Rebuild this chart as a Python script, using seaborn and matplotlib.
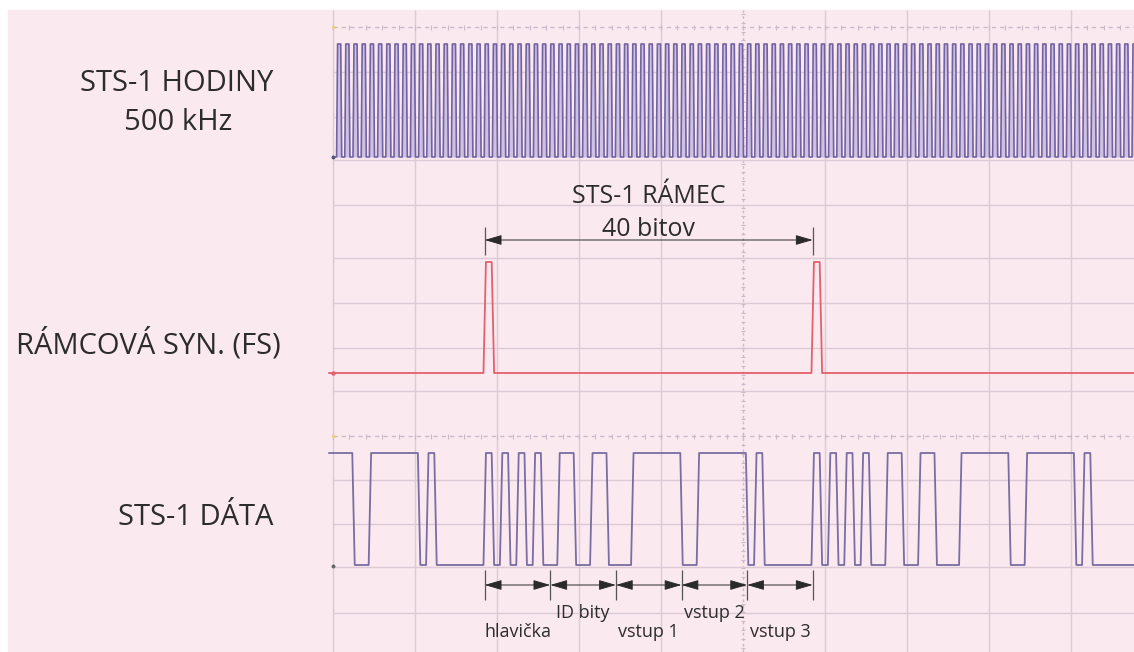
import numpy as np
import pandas as pd
import matplotlib
matplotlib.use("Agg")
import matplotlib.pyplot as plt
from matplotlib.patches import Rectangle
import seaborn as sns

# ------------------------------------------------------------------ data
# time unit = 1 bit (one clock period); bit i occupies [i-0.5, i+0.5]
clock_cycles = 98                     # 500 kHz clock periods visible
clock_pattern = [0, 1]                # low half, high half of each period
fs_high_bits = [19, 59]               # frame-sync pulses (one bit wide)
data_bits = [1, 1, 1, 0, 0, 1, 1, 1, 1, 1, 1, 0, 1, 0, 0, 0, 0, 0, 0,
             1, 0, 1, 0, 1, 0, 1, 0, 0, 1, 1, 0, 0, 1, 1, 0, 0, 0, 1, 1, 1,
             1, 1, 1, 0, 0, 1, 1, 1, 1, 1, 1, 0, 1, 0, 0, 0, 0, 0, 0,
             1, 0, 1, 0, 1, 0, 1, 0, 0, 1, 1, 0, 0, 1, 1, 0, 0, 0, 1, 1, 1,
             1, 1, 1, 0, 0, 1, 1, 1, 1, 1, 1, 0, 1, 0, 0, 0, 0, 0, 0]
frame_start, frame_end = 18.5, 58.5
frame_title = ["STS-1 RÁMEC", "40 bitov"]
segment_bounds = [18.5, 26.5, 34.5, 42.5, 50.5, 58.5]
segment_labels = ["hlavička", "ID bity", "vstup 1", "vstup 2", "vstup 3"]
channel_labels = ["STS-1 HODINY", "500 kHz", "RÁMCOVÁ SYN. (FS)", "STS-1 DÁTA"]

# ------------------------------------------------------------------ layout / style
W, H = 1134, 652
X0 = 333            # pixel x of t = 0
PPB = 8.2           # pixels per bit
PINK = "#fbe9f0"
GRID = "#dccad5"
AXL = "#cdb9c8"
TXT = "#2c2c2c"
FONT = ["Open Sans", "DejaVu Sans"]

sns.set_theme(style="white")
plt.rcParams["font.family"] = FONT

fig = plt.figure(figsize=(W / 100, H / 100), dpi=100)
fig.patch.set_facecolor("white")
ax = fig.add_axes([0, 0, 1, 1])
ax.set_xlim(-X0 / PPB, (W - X0) / PPB)
ax.set_ylim(H, 0)
ax.axis("off")
ax.patch.set_visible(False)
xmax = (W - X0) / PPB

fig.add_artist(Rectangle((8 / W, 0), (W - 8) / W, (H - 10) / H,
                         transform=fig.transFigure, color=PINK, zorder=-10))


def wave(levels, starts, edge):
    """Piecewise-constant levels with slanted edges."""
    t, y = [starts[0]], [levels[0]]
    for i in range(1, len(levels)):
        if levels[i] != levels[i - 1]:
            b = starts[i]
            t += [b - edge / 2, b + edge / 2]
            y += [levels[i - 1], levels[i]]
    t.append(starts[-1] + (starts[1] - starts[0]))
    y.append(levels[-1])
    return np.array(t), np.array(y)


# ------------------------------------------------------------------ grid
for g in range(0, 100, 10):
    if g == 50:
        continue
    ax.vlines(g, 10, H, color=GRID, lw=1.0, zorder=0)
ax.vlines(50, 10, H, color=AXL, lw=1.0, linestyles=(0, (2, 2)), zorder=0)
for yy in [72, 117, 160, 205, 258, 303, 348, 391, 480, 524, 567, 613]:
    ax.hlines(yy, 0, xmax, color=GRID, lw=1.0, zorder=0)
for yy in [27, 436]:
    ax.hlines(yy, 0, xmax, color=AXL, lw=1.0, linestyles=(0, (3, 3)), zorder=0)
    tks = np.arange(0, 98, 2)
    ax.vlines(tks, yy - 2.5, yy + 2.5, color=AXL, lw=0.8, zorder=0)
ax.hlines(np.arange(14, H, 8.8), 50 - 0.3, 50 + 0.3, color=AXL, lw=0.8, zorder=0)

# ------------------------------------------------------------------ clock
clk_levels = clock_pattern * clock_cycles
clk_starts = [k * 0.5 for k in range(len(clk_levels))]
ct, cl = wave(clk_levels, clk_starts, 0.12)
CLK_HI, CLK_LO = 44, 157
cy = CLK_LO - cl * (CLK_LO - CLK_HI)
ax.fill_between(ct, cy, CLK_LO, color="#cdc1e4", lw=0, zorder=1)
sns.lineplot(data=pd.DataFrame({"t": ct, "y": cy}), x="t", y="y", ax=ax,
             sort=False, estimator=None, color="#7262a2", lw=1.2, zorder=2)

# ------------------------------------------------------------------ frame sync
fs_levels = [1 if i in fs_high_bits else 0 for i in range(len(data_bits))]
ft, fl = wave(fs_levels, [i - 0.5 for i in range(len(fs_levels))], 0.3)
FS_HI, FS_LO = 262, 373
fy = FS_LO - fl * (FS_LO - FS_HI)
sns.lineplot(data=pd.DataFrame({"t": ft, "y": fy}), x="t", y="y", ax=ax,
             sort=False, estimator=None, color="#e4606c", lw=1.3, zorder=2)

# ------------------------------------------------------------------ data
dt, dl = wave(data_bits, [i - 0.5 for i in range(len(data_bits))], 0.3)
D_HI, D_LO = 453, 565
dy = D_LO - np.array(dl) * (D_LO - D_HI)
sns.lineplot(data=pd.DataFrame({"t": dt, "y": dy}), x="t", y="y", ax=ax,
             sort=False, estimator=None, color="#7b6ca3", lw=1.3, zorder=2)

# start markers
ax.scatter([0, 0], [27, 436], s=6, color="#e8d27a", zorder=3, lw=0)
ax.scatter([0], [FS_LO], s=10, color="#e4606c", zorder=3, lw=0)
ax.scatter([0], [D_LO + 1], s=8, color="#666666", zorder=3, lw=0)
ax.scatter([0], [CLK_LO], s=8, color="#555577", zorder=3, lw=0)

# ------------------------------------------------------------------ frame dimension
ARW = dict(arrowstyle="<|-|>,head_length=0.75,head_width=0.22", color="#2a2a2a",
           lw=0.7, shrinkA=0, shrinkB=0, mutation_scale=14)
ax.vlines([frame_start, frame_end], 227, 255, color="#555555", lw=0.9, zorder=3)
ax.annotate("", xy=(frame_end, 240), xytext=(frame_start, 240), arrowprops=ARW)
mid = (frame_start + frame_end) / 2
ax.text(mid, 203, frame_title[0], ha="center", va="baseline", fontsize=18, color=TXT)
ax.text(mid, 236, frame_title[1], ha="center", va="baseline", fontsize=18, color=TXT)

# ------------------------------------------------------------------ segments
ax.vlines(segment_bounds, 570, 600, color="#555555", lw=0.9, zorder=3)
for i, lab in enumerate(segment_labels):
    a, b = segment_bounds[i], segment_bounds[i + 1]
    ax.annotate("", xy=(b, 585), xytext=(a, 585), arrowprops=ARW)
    yb = 637 if i % 2 == 0 else 618
    ax.text((a + b) / 2, yb, lab, ha="center", va="baseline", fontsize=13, color=TXT)

# ------------------------------------------------------------------ channel labels
fig.text(177 / W, 1 - 91 / H, channel_labels[0], ha="center", va="baseline", fontsize=21, color=TXT)
fig.text(178 / W, 1 - 130 / H, channel_labels[1], ha="center", va="baseline", fontsize=21, color=TXT)
fig.text(148 / W, 1 - 353 / H, channel_labels[2], ha="center", va="baseline", fontsize=21, color=TXT)
fig.text(196 / W, 1 - 525 / H, channel_labels[3], ha="center", va="baseline", fontsize=21, color=TXT)

fig.savefig("out.png", dpi=100, facecolor="white")
